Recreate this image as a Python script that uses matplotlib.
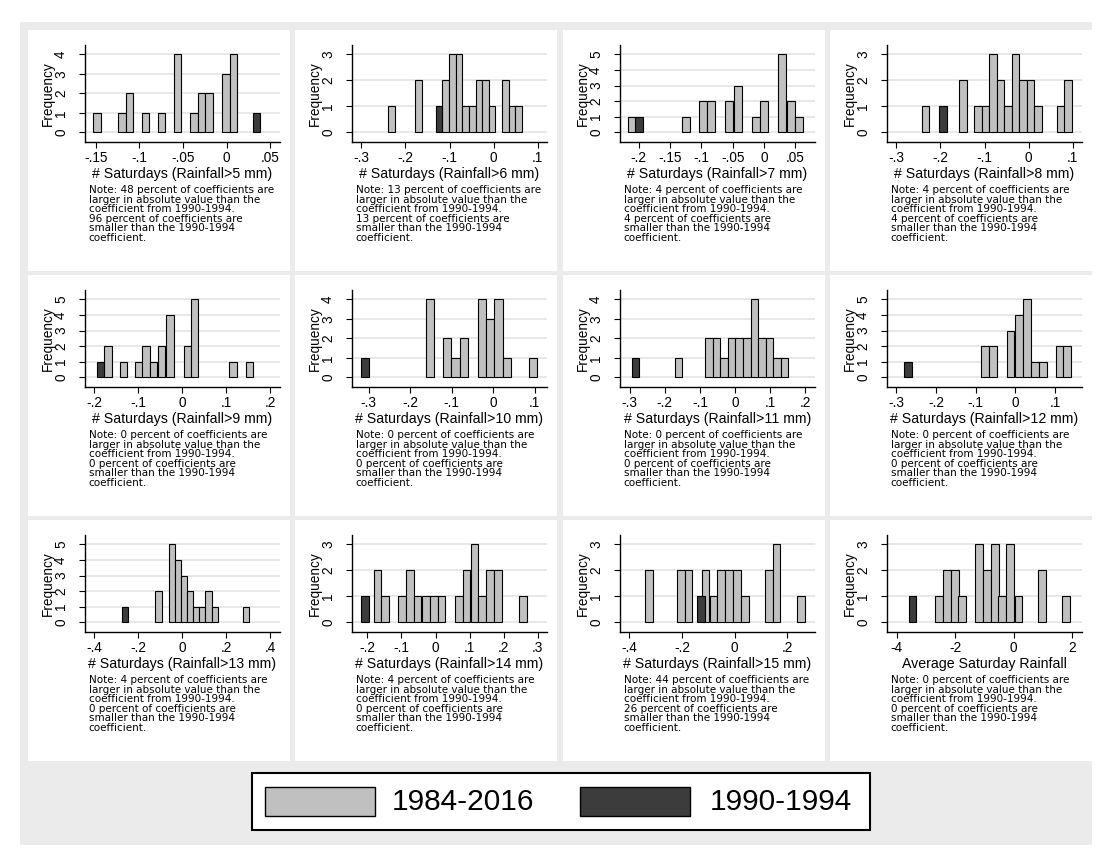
import matplotlib
matplotlib.use('Agg')
import matplotlib.pyplot as plt
from matplotlib.patches import Rectangle

plt.rcParams['font.family'] = ['Liberation Sans', 'DejaVu Sans']

W, H = 1102, 849

# ---------------- data ----------------
titles = ["# Saturdays (Rainfall>5 mm)", "# Saturdays (Rainfall>6 mm)",
          "# Saturdays (Rainfall>7 mm)", "# Saturdays (Rainfall>8 mm)",
          "# Saturdays (Rainfall>9 mm)", "# Saturdays (Rainfall>10 mm)",
          "# Saturdays (Rainfall>11 mm)", "# Saturdays (Rainfall>12 mm)",
          "# Saturdays (Rainfall>13 mm)", "# Saturdays (Rainfall>14 mm)",
          "# Saturdays (Rainfall>15 mm)", "Average Saturday Rainfall"]

pct_larger = [48, 13, 4, 4, 0, 0, 0, 0, 4, 4, 44, 0]
pct_smaller = [96, 13, 4, 4, 0, 0, 0, 0, 0, 0, 26, 0]

p1_gray_x = [-0.1485, -0.1198, -0.1115, -0.0927, -0.0748, -0.0565, -0.0374, -0.0290, -0.0202, -0.0008, 0.0076]
p1_gray_n = [1, 1, 2, 1, 1, 4, 1, 2, 2, 3, 4]
p1_dark_x = [0.0344]
p1_dark_n = [1]
p1_binw = 0.0084

p2_gray_x = [-0.2317, -0.1698, -0.1087, -0.0936, -0.0785, -0.0634, -0.0483, -0.0332, -0.0189, -0.0038, 0.0272, 0.0415, 0.0566]
p2_gray_n = [1, 2, 2, 3, 3, 1, 1, 2, 2, 1, 2, 1, 1]
p2_dark_x = [-0.1238]
p2_dark_n = [1]
p2_binw = 0.0151

p3_gray_x = [-0.2104, -0.1245, -0.0968, -0.0846, -0.0553, -0.0420, -0.0133, 0.0000, 0.0293, 0.0426, 0.0564]
p3_gray_n = [1, 1, 2, 2, 2, 3, 1, 2, 5, 2, 1]
p3_dark_x = [-0.1989]
p3_dark_n = [1]
p3_binw = 0.0128

p4_gray_x = [-0.2340, -0.1491, -0.1147, -0.0977, -0.0808, -0.0642, -0.0468, -0.0302, -0.0128, 0.0038, 0.0211, 0.0728, 0.0891]
p4_gray_n = [1, 2, 1, 1, 3, 2, 1, 3, 2, 2, 1, 1, 2]
p4_dark_x = [-0.1943]
p4_dark_n = [1]
p4_binw = 0.0167

p5_gray_x = [-0.1679, -0.1324, -0.0980, -0.0817, -0.0643, -0.0461, -0.0276, 0.0121, 0.0287, 0.1161, 0.1528]
p5_gray_n = [2, 1, 1, 2, 1, 2, 4, 2, 5, 1, 1]
p5_dark_x = [-0.1846]
p5_dark_n = [1]
p5_binw = 0.0170

p6_gray_x = [-0.1522, -0.1108, -0.0908, -0.0699, -0.0273, -0.0080, 0.0129, 0.0329, 0.0964]
p6_gray_n = [4, 2, 1, 2, 4, 3, 4, 1, 1]
p6_dark_x = [-0.3088]
p6_dark_n = [1]
p6_binw = 0.0200

p7_gray_x = [-0.1603, -0.0740, -0.0531, -0.0318, -0.0104, 0.0114, 0.0342, 0.0560, 0.0769, 0.0977, 0.1195, 0.1414]
p7_gray_n = [1, 2, 2, 1, 2, 2, 2, 4, 2, 2, 1, 1]
p7_dark_x = [-0.2827]
p7_dark_n = [1]
p7_binw = 0.0213

p8_gray_x = [-0.0763, -0.0566, -0.0122, 0.0080, 0.0285, 0.0491, 0.0696, 0.1111, 0.1304]
p8_gray_n = [2, 2, 3, 4, 5, 1, 1, 2, 2]
p8_dark_x = [-0.2700]
p8_dark_n = [1]
p8_binw = 0.0200

p9_gray_x = [-0.1067, -0.0454, -0.0182, 0.0098, 0.0371, 0.0643, 0.0923, 0.1203, 0.1490, 0.2920]
p9_gray_n = [2, 5, 4, 3, 2, 1, 1, 2, 1, 1]
p9_dark_x = [-0.2595]
p9_dark_n = [1]
p9_binw = 0.0280

p10_gray_x = [-0.1707, -0.1491, -0.0977, -0.0757, -0.0527, -0.0288, -0.0053, 0.0172, 0.0686, 0.0911, 0.1141, 0.1371, 0.1601, 0.1826, 0.2560]
p10_gray_n = [2, 1, 1, 2, 1, 1, 1, 1, 1, 2, 3, 1, 2, 2, 1]
p10_dark_x = [-0.2069]
p10_dark_n = [1]
p10_binw = 0.0225

p11_gray_x = [-0.3259, -0.2038, -0.1753, -0.1108, -0.0810, -0.0519, -0.0215, 0.0082, 0.0380, 0.1297, 0.1582, 0.2513]
p11_gray_n = [2, 2, 2, 2, 1, 2, 2, 2, 1, 2, 3, 1]
p11_dark_x = [-0.1291]
p11_dark_n = [1]
p11_binw = 0.0290

p12_gray_x = [-2.566, -2.292, -2.018, -1.756, -1.197, -0.912, -0.650, -0.388, -0.114, 0.165, 0.981, 1.793]
p12_gray_n = [1, 2, 2, 1, 3, 2, 3, 1, 3, 1, 2, 1]
p12_dark_x = [-3.461]
p12_dark_n = [1]
p12_binw = 0.270

xtick_vals = [[-0.15, -0.1, -0.05, 0, 0.05], [-0.3, -0.2, -0.1, 0, 0.1],
              [-0.2, -0.15, -0.1, -0.05, 0, 0.05], [-0.3, -0.2, -0.1, 0, 0.1],
              [-0.2, -0.1, 0, 0.1, 0.2], [-0.3, -0.2, -0.1, 0, 0.1],
              [-0.3, -0.2, -0.1, 0, 0.1, 0.2], [-0.3, -0.2, -0.1, 0, 0.1],
              [-0.4, -0.2, 0, 0.2, 0.4], [-0.2, -0.1, 0, 0.1, 0.2, 0.3],
              [-0.4, -0.2, 0, 0.2], [-4, -2, 0, 2]]
xtick_labels = [["-.15", "-.1", "-.05", "0", ".05"], ["-.3", "-.2", "-.1", "0", ".1"],
                ["-.2", "-.15", "-.1", "-.05", "0", ".05"], ["-.3", "-.2", "-.1", "0", ".1"],
                ["-.2", "-.1", "0", ".1", ".2"], ["-.3", "-.2", "-.1", "0", ".1"],
                ["-.3", "-.2", "-.1", "0", ".1", ".2"], ["-.3", "-.2", "-.1", "0", ".1"],
                ["-.4", "-.2", "0", ".2", ".4"], ["-.2", "-.1", "0", ".1", ".2", ".3"],
                ["-.4", "-.2", "0", ".2"], ["-4", "-2", "0", "2"]]
ymax_ticks = [4, 3, 5, 3, 5, 4, 4, 5, 5, 3, 3, 3]

legend_labels = ["1984-2016", "1990-1994"]

gray_x = [p1_gray_x, p2_gray_x, p3_gray_x, p4_gray_x, p5_gray_x, p6_gray_x,
          p7_gray_x, p8_gray_x, p9_gray_x, p10_gray_x, p11_gray_x, p12_gray_x]
gray_n = [p1_gray_n, p2_gray_n, p3_gray_n, p4_gray_n, p5_gray_n, p6_gray_n,
          p7_gray_n, p8_gray_n, p9_gray_n, p10_gray_n, p11_gray_n, p12_gray_n]
dark_x = [p1_dark_x, p2_dark_x, p3_dark_x, p4_dark_x, p5_dark_x, p6_dark_x,
          p7_dark_x, p8_dark_x, p9_dark_x, p10_dark_x, p11_dark_x, p12_dark_x]
dark_n = [p1_dark_n, p2_dark_n, p3_dark_n, p4_dark_n, p5_dark_n, p6_dark_n,
          p7_dark_n, p8_dark_n, p9_dark_n, p10_dark_n, p11_dark_n, p12_dark_n]
binws = [p1_binw, p2_binw, p3_binw, p4_binw, p5_binw, p6_binw,
         p7_binw, p8_binw, p9_binw, p10_binw, p11_binw, p12_binw]

# ---------------- layout / style ----------------
xlims = [(-0.1626, 0.0607), (-0.3215, 0.1200), (-0.2303, 0.0809), (-0.3215, 0.1200),
         (-0.2209, 0.2216), (-0.3406, 0.1293), (-0.3283, 0.2268), (-0.3237, 0.1669),
         (-0.4417, 0.4433), (-0.2460, 0.3264), (-0.4367, 0.3038), (-4.344, 2.326)]

GRAY = '#c0c0c0'
DARK = '#3c3c3c'
BG = '#ebebeb'

fig = plt.figure(figsize=(W / 100, H / 100), dpi=100)
fig.patch.set_facecolor('white')


def fx(x):
    return x / W


def fy(y):
    return 1 - y / H


def rect(x0, y0, x1, y1, **kw):
    r = Rectangle((fx(x0), fy(y1)), (x1 - x0) / W, (y1 - y0) / H,
                  transform=fig.transFigure, **kw)
    fig.add_artist(r)
    return r


rect(20, 22, 1092, 845, facecolor=BG, edgecolor='none', zorder=0)

col_x = [28, 295, 563, 830]
row_y = [30, 275, 520]
zoom_y = [35, 280, 525]

for i in range(12):
    r, c = divmod(i, 4)
    cx = col_x[c]
    rect(cx, row_y[r], cx + 262, row_y[r] + 241, facecolor='white', edgecolor='none', zorder=0)
    zy = zoom_y[r]
    ax_l = cx + 56.7
    ax_t = zy + 10
    ax_b = zy + 106.7
    ax = fig.add_axes([fx(ax_l), fy(ax_b), 195 / W, (ax_b - ax_t) / H])
    ax.set_facecolor('white')
    ax.bar(gray_x[i], gray_n[i], width=binws[i], color=GRAY, edgecolor='black',
           linewidth=0.8, zorder=3)
    ax.bar(dark_x[i], dark_n[i], width=binws[i], color=DARK, edgecolor='black',
           linewidth=0.8, zorder=4)
    ym = ymax_ticks[i]
    ax.set_ylim(-0.12 * ym, 1.12 * ym)
    ax.set_xlim(*xlims[i])
    ax.set_yticks(range(0, ym + 1))
    ax.set_yticklabels([str(v) for v in range(0, ym + 1)], rotation=90, va='center')
    ax.set_xticks(xtick_vals[i])
    ax.set_xticklabels(xtick_labels[i])
    ax.tick_params(axis='both', labelsize=9.8, length=4, width=0.8, color='black')
    ax.tick_params(axis='y', pad=8)
    ax.tick_params(axis='x', pad=3)
    ax.yaxis.grid(True, color='#e6e6e6', linewidth=1.3)
    ax.set_axisbelow(True)
    for s in ['top', 'right']:
        ax.spines[s].set_visible(False)
    for s in ['left', 'bottom']:
        ax.spines[s].set_linewidth(1.0)
    ax.set_ylabel('Frequency', fontsize=9.8)
    ax.yaxis.set_label_coords(-0.152, 0.5)
    ax.set_xlabel(titles[i], fontsize=10.2, labelpad=1)

    lines = ["Note: %d percent of coefficients are" % pct_larger[i],
             "larger in absolute value than the",
             "coefficient from 1990-1994.",
             "%d percent of coefficients are" % pct_smaller[i],
             "smaller than the 1990-1994",
             "coefficient."]
    for k, ln in enumerate(lines):
        fig.text(fx(ax_l + 4), fy(zy + 155 + k * 9.6), ln, fontsize=7.5,
                 family='DejaVu Sans', ha='left', va='center')

# legend
rect(252, 773, 870, 830, facecolor='white', edgecolor='black', linewidth=1.5, zorder=1)
rect(265, 787, 375, 816, facecolor=GRAY, edgecolor='black', linewidth=1.0, zorder=2)
rect(580, 787, 690, 816, facecolor=DARK, edgecolor='black', linewidth=1.0, zorder=2)
fig.text(fx(392), fy(802), legend_labels[0], fontsize=21.5, ha='left', va='center')
fig.text(fx(710), fy(802), legend_labels[1], fontsize=21.5, ha='left', va='center')

fig.savefig('out.png', dpi=100)
